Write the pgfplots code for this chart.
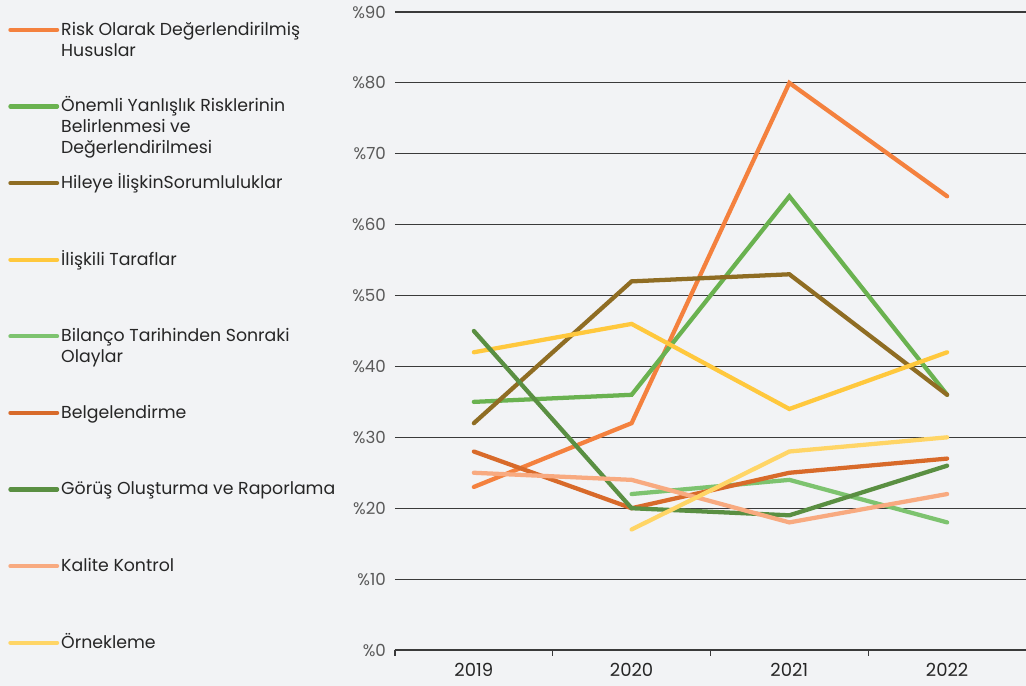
\documentclass[border=0pt]{standalone}
\usepackage{pgfplots}
\pgfplotsset{compat=1.18}
\usepackage{fontspec}
\setmainfont{Poppins}
\definecolor{bg}{HTML}{F2F3F5}
\definecolor{gridc}{HTML}{3A3A3A}
\definecolor{cRisk}{HTML}{F4813E}
\definecolor{cOnem}{HTML}{6AB250}
\definecolor{cHile}{HTML}{8F6D23}
\definecolor{cIlis}{HTML}{FFC83D}
\definecolor{cBila}{HTML}{7DC36F}
\definecolor{cBelg}{HTML}{D86A2A}
\definecolor{cGoru}{HTML}{5A8F42}
\definecolor{cKali}{HTML}{F8AA80}
\definecolor{cOrne}{HTML}{FFD566}
\newcommand{\leg}[1]{\parbox[t]{215pt}{\raggedright #1}}
\begin{document}
\begin{tikzpicture}
\fill[bg] (0,0) rectangle (769.5pt,514.5pt);
\begin{axis}[
  at={(296.25pt,27pt)}, anchor=south west,
  scale only axis, width=473.25pt, height=478.5pt,
  xmin=-0.5, xmax=3.5, ymin=0, ymax=90,
  axis lines*=left,
  y axis line style={draw=none},
  x axis line style={draw=gridc, line width=0.9pt},
  xtick={0,1,2,3},
  xticklabels={2019,2020,2021,2022},
  minor xtick={-0.5,0.5,1.5,2.5},
  major x tick style={draw=none},
  minor x tick style={draw=gridc, line width=0.9pt},
  minor tick length=4.5pt,
  tick align=outside,
  ytick={0,10,...,90},
  ytick style={draw=none},
  ymajorgrids,
  major grid style={draw=gridc, line width=0.9pt},
  yticklabel={\%\pgfmathprintnumber{\tick}},
  /pgf/number format/assume math mode=true,
  yticklabel style={font=\fontsize{12.5}{14}\selectfont, text=black!65, xshift=1pt},
  xticklabel style={font=\fontsize{13.5}{15}\selectfont, text=black!85, yshift=-2pt},
  every axis plot/.append style={line width=3.2pt, line cap=round},
  legend cell align=left,
  legend style={at={(-0.6196,0.989)}, anchor=north west, draw=none, fill=none,
    font=\fontsize{13}{15.75}\selectfont, text=black!85,
    nodes={inner sep=0pt, text height=10pt, text depth=47.45pt}, row sep=0pt, column sep=1.5pt},
  legend image code/.code={\draw[#1, line cap=round] (0pt,19.5pt+0.33em) -- (35pt,19.5pt+0.33em);},
]
\addplot[cRisk] coordinates {(0,23) (1,32) (2,80) (3,64)};
\addlegendentry{\leg{Risk Olarak Değerlendirilmiş\\Hususlar}}
\addplot[cOnem] coordinates {(0,35) (1,36) (2,64) (3,36)};
\addlegendentry{\leg{Önemli Yanlışlık Risklerinin\\Belirlenmesi ve\\Değerlendirilmesi}}
\addplot[cHile] coordinates {(0,32) (1,52) (2,53) (3,36)};
\addlegendentry{\leg{Hileye İlişkinSorumluluklar}}
\addplot[cIlis] coordinates {(0,42) (1,46) (2,34) (3,42)};
\addlegendentry{\leg{İlişkili Taraflar}}
\addplot[cBila] coordinates {(1,22) (2,24) (3,18)};
\addlegendentry{\leg{Bilanço Tarihinden Sonraki\\Olaylar}}
\addplot[cBelg] coordinates {(0,28) (1,20) (2,25) (3,27)};
\addlegendentry{\leg{Belgelendirme}}
\addplot[cGoru] coordinates {(0,45) (1,20) (2,19) (3,26)};
\addlegendentry{\leg{Görüş Oluşturma ve Raporlama}}
\addplot[cKali] coordinates {(0,25) (1,24) (2,18) (3,22)};
\addlegendentry{\leg{Kalite Kontrol}}
\addplot[cOrne] coordinates {(1,17) (2,28) (3,30)};
\addlegendentry{\leg{Örnekleme}}
\end{axis}
\pgfresetboundingbox
\useasboundingbox (0,0) rectangle (769.5pt,514.5pt);
\end{tikzpicture}
\end{document}
